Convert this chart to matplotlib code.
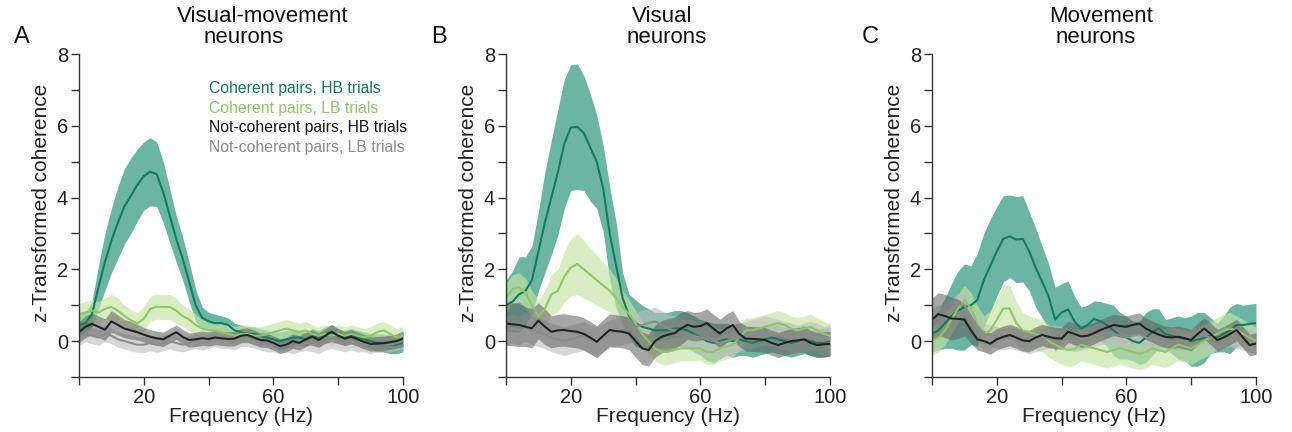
import numpy as np
import matplotlib
matplotlib.use('Agg')
import matplotlib.pyplot as plt

plt.rcParams['font.family'] = ['Liberation Sans', 'DejaVu Sans']

# frequencies, 0..100 Hz in 2 Hz steps
freq = np.arange(0, 101, 2)

# ---- panel A : visual-movement neurons
a_coh_hb = [0.45, 0.5, 0.75, 1.5, 2.2, 2.8, 3.3, 3.75, 4.05, 4.35, 4.6, 4.72, 4.65, 4.15, 3.5, 2.85,
            2.3, 1.65, 1.0, 0.65, 0.55, 0.5, 0.5, 0.45, 0.3, 0.25, 0.2, 0.2, 0.15, 0.1, 0.05, 0.0,
            0.05, 0.1, 0.1, 0.05, 0.15, 0.1, 0.2, 0.25, 0.15, 0.1, 0.15, 0.1, 0.05, 0.0, -0.05, -0.05,
            -0.1, -0.1, -0.05]
a_coh_hb_sem = [0.3, 0.3, 0.35, 0.6, 0.8, 0.9, 1.0, 1.05, 1.05, 1.0, 0.95, 0.95, 0.9, 0.85, 0.75, 0.65,
                0.6, 0.55, 0.45, 0.3, 0.25, 0.25, 0.2, 0.2, 0.2, 0.2, 0.2, 0.2, 0.2, 0.2, 0.2, 0.25,
                0.25, 0.2, 0.2, 0.2, 0.2, 0.2, 0.2, 0.2, 0.2, 0.2, 0.2, 0.2, 0.2, 0.2, 0.25, 0.25,
                0.25, 0.25, 0.25]
a_coh_lb = [0.75, 0.8, 0.85, 0.8, 0.9, 0.95, 0.85, 0.7, 0.58, 0.5, 0.62, 0.9, 0.96, 0.95, 0.95, 0.85,
            0.7, 0.6, 0.45, 0.35, 0.3, 0.3, 0.25, 0.2, 0.15, 0.2, 0.2, 0.15, 0.15, 0.2, 0.25, 0.3,
            0.35, 0.3, 0.25, 0.3, 0.2, 0.15, 0.2, 0.15, 0.2, 0.15, 0.2, 0.15, 0.1, 0.15, 0.25, 0.3,
            0.2, 0.1, 0.15]
a_coh_lb_sem = [0.3, 0.3, 0.3, 0.3, 0.3, 0.35, 0.35, 0.3, 0.3, 0.3, 0.35, 0.35, 0.35, 0.35, 0.35, 0.35,
                0.3, 0.3, 0.3, 0.25, 0.25, 0.25, 0.25, 0.25, 0.25, 0.25, 0.25, 0.25, 0.25, 0.25, 0.25, 0.25,
                0.25, 0.25, 0.25, 0.25, 0.25, 0.25, 0.25, 0.25, 0.25, 0.25, 0.25, 0.25, 0.25, 0.25, 0.25, 0.25,
                0.25, 0.25, 0.25]
a_not_hb = [0.25, 0.4, 0.48, 0.4, 0.32, 0.55, 0.45, 0.35, 0.3, 0.25, 0.18, 0.12, 0.08, 0.05, 0.15, 0.25,
            0.12, 0.03, 0.05, 0.08, 0.06, 0.1, 0.08, 0.06, 0.07, 0.15, 0.17, 0.1, 0.03, 0.02, -0.05, -0.14,
            -0.1, 0.0, -0.05, 0.05, 0.12, 0.03, 0.15, 0.26, 0.15, 0.07, 0.12, 0.05, -0.02, -0.08, -0.07, -0.06,
            -0.03, 0.0, 0.07]
a_not_hb_sem = [0.3, 0.3, 0.3, 0.3, 0.3, 0.3, 0.28, 0.25, 0.25, 0.22, 0.2, 0.2, 0.2, 0.2, 0.2, 0.2,
                0.2, 0.2, 0.2, 0.2, 0.2, 0.2, 0.2, 0.2, 0.2, 0.2, 0.2, 0.2, 0.2, 0.2, 0.2, 0.2,
                0.2, 0.2, 0.2, 0.2, 0.2, 0.2, 0.2, 0.2, 0.2, 0.2, 0.2, 0.2, 0.2, 0.2, 0.2, 0.2,
                0.2, 0.2, 0.22]
a_not_lb = [0.1, 0.2, 0.15, 0.1, 0.2, 0.15, 0.05, 0.0, -0.05, -0.1, -0.1, -0.05, -0.1, -0.05, 0.0, -0.05,
            -0.1, -0.05, 0.0, -0.05, 0.0, 0.05, 0.0, 0.0, -0.05, 0.05, 0.05, 0.0, -0.05, -0.1, -0.1, -0.15,
            -0.1, -0.15, -0.1, -0.05, -0.1, -0.15, -0.05, 0.0, -0.05, -0.1, -0.05, -0.1, -0.1, -0.15, -0.1, -0.05,
            -0.1, -0.05, 0.0]
a_not_lb_sem = [0.22, 0.22, 0.22, 0.22, 0.22, 0.22, 0.22, 0.22, 0.22, 0.22, 0.22, 0.22, 0.22, 0.22, 0.22, 0.22,
                0.2, 0.2, 0.2, 0.2, 0.2, 0.2, 0.2, 0.2, 0.2, 0.2, 0.2, 0.2, 0.2, 0.2, 0.2, 0.2,
                0.2, 0.2, 0.2, 0.2, 0.2, 0.2, 0.2, 0.2, 0.2, 0.2, 0.2, 0.2, 0.2, 0.2, 0.2, 0.2,
                0.2, 0.2, 0.2]

# ---- panel B : visual neurons
b_coh_hb = [1.0, 1.1, 1.3, 1.4, 1.7, 2.5, 3.3, 4.0, 4.7, 5.5, 5.95, 5.97, 5.8, 5.4, 5.0, 4.25,
            3.0, 2.1, 1.2, 0.7, 0.5, 0.4, 0.35, 0.3, 0.3, 0.3, 0.35, 0.35, 0.3, 0.2, 0.1, 0.0,
            -0.05, 0.0, 0.05, 0.0, 0.05, 0.0, -0.05, 0.0, 0.05, 0.1, 0.05, 0.0, -0.05, 0.0, 0.05, 0.0,
            -0.05, -0.05, 0.0]
b_coh_hb_sem = [0.7, 0.85, 1.05, 0.95, 0.95, 1.1, 1.4, 1.6, 1.75, 1.8, 1.75, 1.75, 1.6, 1.5, 1.3, 1.2,
                1.3, 1.2, 0.7, 0.6, 0.65, 0.6, 0.55, 0.5, 0.5, 0.5, 0.5, 0.5, 0.5, 0.5, 0.5, 0.55,
                0.55, 0.5, 0.45, 0.45, 0.45, 0.4, 0.4, 0.4, 0.4, 0.4, 0.4, 0.4, 0.4, 0.4, 0.4, 0.4,
                0.4, 0.4, 0.4]
b_coh_lb = [1.2, 1.45, 1.5, 1.35, 1.0, 0.7, 0.9, 1.3, 1.4, 1.8, 2.05, 2.15, 2.0, 1.85, 1.7, 1.55,
            1.4, 1.2, 0.95, 0.75, 0.5, 0.2, 0.0, -0.2, -0.3, -0.3, -0.25, -0.2, -0.2, -0.2, -0.2, -0.3,
            -0.3, -0.2, -0.15, -0.1, 0.1, 0.3, 0.3, 0.35, 0.4, 0.45, 0.5, 0.45, 0.35, 0.3, 0.35, 0.4,
            0.3, 0.2, 0.15]
b_coh_lb_sem = [0.4, 0.4, 0.4, 0.4, 0.4, 0.45, 0.5, 0.55, 0.6, 0.7, 0.8, 0.85, 0.8, 0.75, 0.7, 0.65,
                0.6, 0.55, 0.45, 0.4, 0.35, 0.35, 0.35, 0.35, 0.35, 0.35, 0.35, 0.35, 0.35, 0.35, 0.35, 0.35,
                0.35, 0.35, 0.35, 0.35, 0.35, 0.35, 0.35, 0.35, 0.35, 0.35, 0.35, 0.35, 0.35, 0.35, 0.35, 0.35,
                0.35, 0.35, 0.35]
b_not_hb = [0.49, 0.47, 0.45, 0.4, 0.36, 0.57, 0.4, 0.26, 0.3, 0.31, 0.28, 0.26, 0.2, 0.1, -0.02, 0.15,
            0.31, 0.28, 0.26, 0.21, 0.0, -0.2, -0.25, 0.0, 0.12, 0.18, 0.22, 0.35, 0.45, 0.4, 0.42, 0.5,
            0.35, 0.21, 0.35, 0.45, 0.2, 0.07, 0.06, 0.05, 0.03, -0.05, -0.11, -0.05, 0.0, 0.02, 0.05, -0.05,
            -0.11, -0.09, -0.08]
b_not_hb_sem = [0.6, 0.6, 0.6, 0.55, 0.55, 0.5, 0.5, 0.45, 0.45, 0.45, 0.45, 0.45, 0.45, 0.45, 0.45, 0.45,
                0.45, 0.45, 0.45, 0.45, 0.45, 0.45, 0.45, 0.45, 0.45, 0.45, 0.45, 0.45, 0.4, 0.4, 0.4, 0.4,
                0.4, 0.4, 0.4, 0.4, 0.35, 0.35, 0.35, 0.35, 0.35, 0.35, 0.35, 0.35, 0.35, 0.35, 0.35, 0.35,
                0.35, 0.35, 0.35]
b_not_lb = [0.3, 0.35, 0.3, 0.4, 0.3, 0.25, 0.2, 0.1, 0.05, 0.0, 0.05, 0.1, 0.15, 0.05, 0.0, 0.1,
            0.2, 0.25, 0.3, 0.35, 0.4, 0.45, 0.5, 0.55, 0.45, 0.35, 0.3, 0.25, 0.2, 0.15, 0.1, 0.05,
            0.0, -0.05, 0.0, 0.05, 0.1, 0.15, 0.2, 0.25, 0.3, 0.25, 0.2, 0.15, 0.1, 0.05, 0.1, 0.15,
            0.1, 0.0, 0.05]
b_not_lb_sem = [0.4] * 51

# ---- panel C : movement neurons
c_coh_hb = [0.2, 0.3, 0.5, 0.7, 0.85, 0.95, 1.0, 1.15, 1.7, 2.1, 2.5, 2.85, 2.92, 2.83, 2.85, 2.5,
            2.05, 1.65, 1.25, 0.6, 0.8, 0.88, 0.55, 0.35, 0.45, 0.62, 0.55, 0.45, 0.3, 0.15, 0.1, 0.0,
            -0.05, 0.1, 0.25, 0.35, 0.2, 0.15, 0.1, 0.05, 0.0, 0.05, 0.1, 0.15, 0.1, 0.2, 0.3, 0.45,
            0.45, 0.48, 0.5]
c_coh_hb_sem = [0.5, 0.55, 0.7, 0.9, 1.1, 1.2, 1.1, 1.3, 1.3, 1.3, 1.25, 1.2, 1.15, 1.2, 1.2, 1.1,
                1.1, 1.0, 0.9, 0.9, 0.8, 0.8, 0.7, 0.6, 0.55, 0.5, 0.55, 0.6, 0.7, 0.65, 0.6, 0.55,
                0.6, 0.7, 0.65, 0.55, 0.4, 0.5, 0.6, 0.6, 0.7, 0.75, 0.7, 0.5, 0.4, 0.5, 0.65, 0.6,
                0.55, 0.55, 0.55]
c_coh_lb = [0.0, 0.1, 0.3, 0.6, 0.9, 1.15, 0.9, 0.5, 0.2, 0.3, 0.6, 0.91, 0.91, 0.5, 0.3, 0.25,
            0.2, 0.15, 0.0, -0.1, -0.2, -0.25, -0.22, -0.1, -0.15, -0.2, -0.25, -0.3, -0.25, -0.2, -0.25, -0.3,
            -0.35, -0.3, -0.2, -0.25, -0.3, -0.2, -0.1, -0.15, -0.2, -0.1, 0.0, 0.1, 0.2, 0.3, 0.35, 0.3,
            0.2, 0.1, 0.0]
c_coh_lb_sem = [0.4, 0.4, 0.4, 0.4, 0.4, 0.4, 0.45, 0.5, 0.5, 0.55, 0.6, 0.65, 0.65, 0.6, 0.5, 0.45,
                0.45, 0.45, 0.45, 0.45, 0.45, 0.45, 0.45, 0.45, 0.45, 0.45, 0.45, 0.45, 0.45, 0.45, 0.45, 0.45,
                0.45, 0.45, 0.45, 0.45, 0.45, 0.45, 0.45, 0.45, 0.45, 0.45, 0.45, 0.45, 0.45, 0.45, 0.45, 0.4,
                0.4, 0.4, 0.4]
c_not_hb = [0.6, 0.75, 0.7, 0.63, 0.62, 0.6, 0.3, 0.05, 0.0, -0.07, 0.05, 0.12, 0.17, 0.1, 0.02, 0.0,
            0.1, 0.17, 0.12, 0.08, 0.07, 0.26, 0.2, 0.13, 0.15, 0.22, 0.31, 0.38, 0.45, 0.42, 0.4, 0.45,
            0.49, 0.35, 0.26, 0.18, 0.12, 0.1, 0.12, 0.08, 0.03, 0.2, 0.35, 0.2, 0.03, 0.1, 0.2, 0.31,
            0.1, -0.11, -0.07]
c_not_hb_sem = [0.6, 0.6, 0.6, 0.6, 0.55, 0.45, 0.35, 0.3, 0.3, 0.3, 0.3, 0.3, 0.3, 0.3, 0.3, 0.3,
                0.3, 0.3, 0.3, 0.3, 0.3, 0.3, 0.3, 0.3, 0.3, 0.3, 0.3, 0.3, 0.3, 0.3, 0.3, 0.3,
                0.3, 0.3, 0.3, 0.3, 0.3, 0.3, 0.3, 0.3, 0.3, 0.3, 0.3, 0.3, 0.3, 0.3, 0.3, 0.3,
                0.3, 0.3, 0.3]
c_not_lb = [0.6, 0.7, 0.75, 0.85, 1.05, 1.0, 0.7, 0.4, 0.2, 0.15, 0.1, 0.05, 0.1, 0.05, 0.0, -0.05,
            0.0, 0.05, 0.1, 0.15, 0.1, 0.05, 0.0, 0.05, 0.1, 0.15, 0.2, 0.25, 0.2, 0.15, 0.1, 0.15,
            0.2, 0.1, 0.05, 0.0, 0.05, 0.1, 0.05, 0.0, 0.05, 0.1, 0.15, 0.1, 0.05, 0.1, 0.15, 0.1,
            0.05, 0.0, -0.05]
c_not_lb_sem = [0.3] * 51

titles = [('Visual-movement', 'neurons'), ('Visual', 'neurons'), ('Movement', 'neurons')]
letters = ['A', 'B', 'C']
legend_labels = ['Coherent pairs, HB trials', 'Coherent pairs, LB trials',
                 'Not-coherent pairs, HB trials', 'Not-coherent pairs, LB trials']

panels = [
    [(a_coh_hb, a_coh_hb_sem), (a_coh_lb, a_coh_lb_sem), (a_not_lb, a_not_lb_sem), (a_not_hb, a_not_hb_sem)],
    [(b_coh_hb, b_coh_hb_sem), (b_coh_lb, b_coh_lb_sem), (b_not_lb, b_not_lb_sem), (b_not_hb, b_not_hb_sem)],
    [(c_coh_hb, c_coh_hb_sem), (c_coh_lb, c_coh_lb_sem), (c_not_lb, c_not_lb_sem), (c_not_hb, c_not_hb_sem)],
]
# order drawn: coh HB, coh LB, not LB, not HB
fill_cols = ['#5aae98', '#c6e4a4', '#bdbdbd', '#5e5e5e']
fill_alpha = [0.9, 0.65, 0.6, 0.55]
line_cols = ['#127c5e', '#8ec765', '#8c8c8c', '#222222']
legend_cols = ['#127c5e', '#8ec765', '#111111', '#8c8c8c']

fig = plt.figure(figsize=(12.92, 4.32), dpi=100)
W, H = 1292, 432
lefts = [79, 506, 932]
title_x = [(0.568, 0.509), (0.483, 0.495), (0.522, 0.506)]
letter_x = [22, 439, 870]

for i in range(3):
    ax = fig.add_axes([lefts[i] / W, 1 - 377 / H, 324 / W, 323 / H])
    for k, (m, s) in enumerate(panels[i]):
        m = np.array(m)
        s = np.array(s)
        ax.fill_between(freq, m - s, m + s, color=fill_cols[k], alpha=fill_alpha[k], lw=0)
        ax.plot(freq, m, color=line_cols[k], lw=1.5)

    ax.set_xlim(0, 100)
    ax.set_ylim(-1, 8)
    ax.spines['top'].set_visible(False)
    ax.spines['right'].set_visible(False)
    for sp in ['left', 'bottom']:
        ax.spines[sp].set_linewidth(1.0)
        ax.spines[sp].set_color('#333333')
    ax.set_yticks(np.arange(-1, 9))
    ax.set_yticklabels(['' if v % 2 else str(v) for v in range(-1, 9)])
    ax.set_xticks([0, 20, 40, 60, 80, 100])
    ax.set_xticklabels(['', '20', '', '60', '', '100'])
    ax.tick_params(direction='out', length=6, width=1.0, colors='#333333', labelsize=14.5,
                   labelcolor='#222222', pad=2)
    ax.set_xlabel('Frequency (Hz)', fontsize=15, labelpad=0, color='#222222')
    ax.set_ylabel('z-Transformed coherence', fontsize=15, color='#222222')
    ax.yaxis.set_label_coords(-0.085, 0.54)

    ax.text(title_x[i][0], 1.117, titles[i][0], transform=ax.transAxes, ha='center', va='center',
            fontsize=16, color='#111111')
    ax.text(title_x[i][1], 1.052, titles[i][1], transform=ax.transAxes, ha='center', va='center',
            fontsize=16, color='#111111')
    fig.text(letter_x[i] / W, 1 - 37 / H, letters[i], ha='center', va='center', fontsize=17,
             color='#111111')

    if i == 0:
        for k, lab in enumerate(legend_labels):
            ax.text(0.40, 0.892 - k * 0.0605, lab, transform=ax.transAxes, ha='left', va='center',
                    fontsize=11.3, color=legend_cols[k])

fig.savefig('out.png', dpi=100)
